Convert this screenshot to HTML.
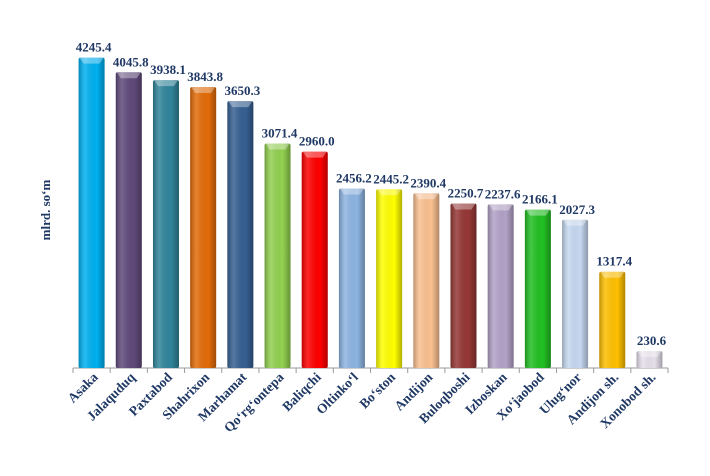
<!DOCTYPE html>
<html><head><meta charset="utf-8"><style>
body{margin:0;background:#fff;width:710px;height:471px;overflow:hidden}
text{font-family:"Liberation Serif",serif;font-weight:bold;fill:#1F3864}
</style></head><body>
<svg width="710" height="471" xmlns="http://www.w3.org/2000/svg">
<defs>
<linearGradient id="sh" x1="0" x2="1" y1="0" y2="0">
<stop offset="0" stop-color="#000" stop-opacity="0.25"/>
<stop offset="0.25" stop-color="#fff" stop-opacity="0.15"/>
<stop offset="0.7" stop-color="#000" stop-opacity="0"/>
<stop offset="1" stop-color="#000" stop-opacity="0.3"/>
</linearGradient>
</defs>
<line x1="73" y1="368" x2="668" y2="368" stroke="#999" stroke-width="1"/>
<text transform="translate(50,210) rotate(-90)" text-anchor="middle" font-size="13">mlrd. so‘m</text>
<script>
var d=[["Asaka",4245.4,"#00B0F0"],["Jalaquduq",4045.8,"#604A7B"],["Paxtabod",3938.1,"#31859C"],["Shahrixon",3843.8,"#E36C09"],["Marhamat",3650.3,"#366092"],["Qo‘rg‘ontepa",3071.4,"#92D050"],["Baliqchi",2960.0,"#FF0000"],["Oltinko‘l",2456.2,"#8DB4E2"],["Bo‘ston",2445.2,"#FFFF00"],["Andijon",2390.4,"#FAC090"],["Buloqboshi",2250.7,"#953735"],["Izboskan",2237.6,"#B3A2C7"],["Xo‘jaobod",2166.1,"#22C022"],["Ulug‘nor",2027.3,"#C6D9F1"],["Andijon sh.",1317.4,"#FFC000"],["Xonobod sh.",230.6,"#E6E0EC"]];
var ns="http://www.w3.org/2000/svg",svg=document.querySelector("svg"),w=37.19;
function el(t,a,txt){var e=document.createElementNS(ns,t);for(var k in a)e.setAttribute(k,a[k]);if(txt)e.textContent=txt;svg.appendChild(e);return e;}
d.forEach(function(r,i){
 var cx=73+w*(i+0.5),h=r[1]*0.0731,y=368-h,x=cx-13;
 el("rect",{x:x,y:y,width:26,height:h,fill:r[2],rx:2});
 el("rect",{x:x,y:y,width:26,height:h,fill:"url(#sh)",rx:2});
 el("polygon",{points:(x+1)+","+y+" "+(x+25)+","+y+" "+(x+21)+","+(y+6)+" "+(x+5)+","+(y+6),fill:"#fff","fill-opacity":"0.35"});
 el("line",{x1:73+w*i,y1:368,x2:73+w*i,y2:373,stroke:"#999"});
 el("text",{x:cx+2,y:y-6,"text-anchor":"middle","font-size":"13"},r[1].toFixed(1));
 el("text",{transform:"translate("+(cx+7)+",378) rotate(-45)","text-anchor":"end","font-size":"13.5"},r[0]);
});
el("line",{x1:668,y1:368,x2:668,y2:373,stroke:"#999"});
</script>
</svg>
</body></html>
